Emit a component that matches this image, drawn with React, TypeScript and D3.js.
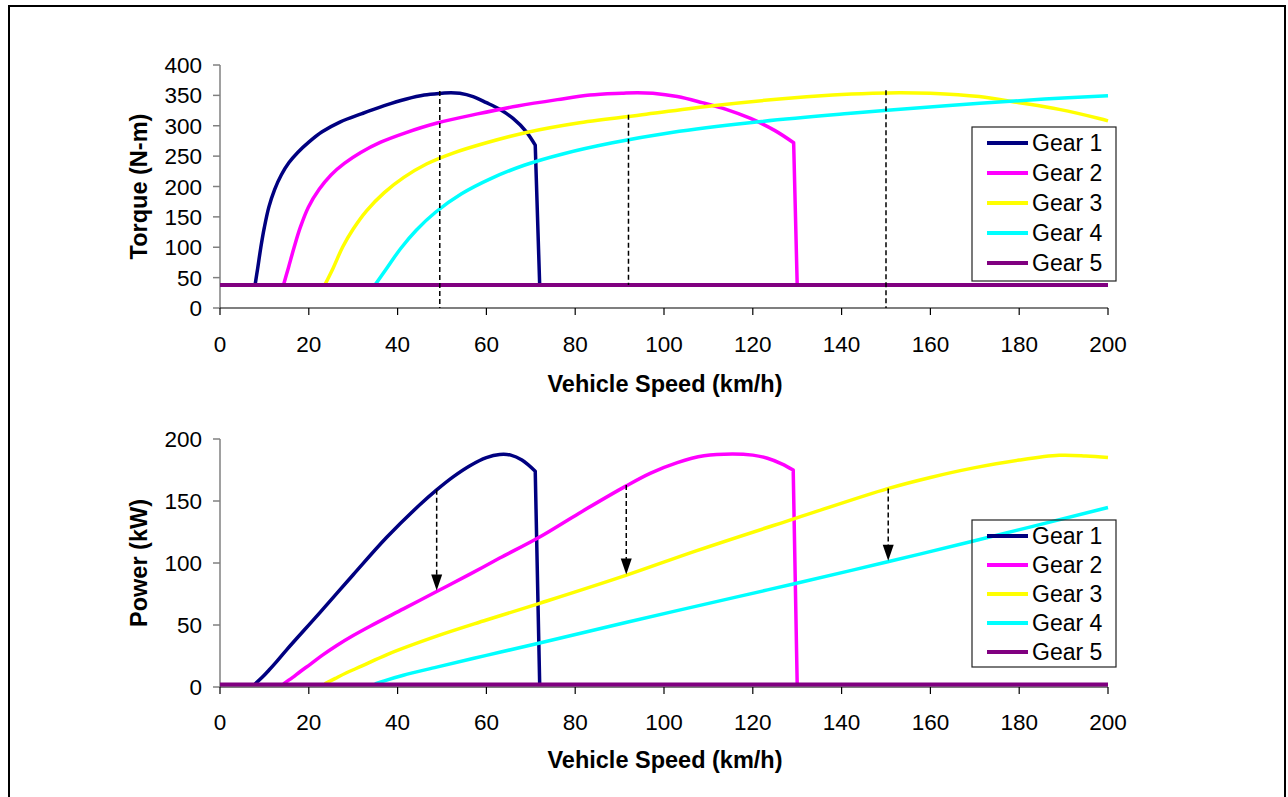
import React from "react";
import * as d3 from "d3";

type Pt = [number, number];

const gearNames = ["Gear 1", "Gear 2", "Gear 3", "Gear 4", "Gear 5"];
const gearColors = ["#000080", "#FF00FF", "#FFFF00", "#00FFFF", "#800080"];

const xTicks = [0, 20, 40, 60, 80, 100, 120, 140, 160, 180, 200];
const torqueTicks = [0, 50, 100, 150, 200, 250, 300, 350, 400];
const powerTicks = [0, 50, 100, 150, 200];

// Torque (N-m) vs speed (km/h)
const gear1Torque: Pt[] = [
  [7.9, 38], [8.5, 66], [9.2, 100], [10, 133], [11, 166], [12.3, 195], [13.8, 219],
  [15.5, 239], [17.5, 256], [20, 273], [23, 290], [27, 306], [32, 320], [37, 333],
  [42, 344], [46, 350.5], [50, 353.5], [52, 354.5], [54, 353.5], [57, 348], [60, 338],
  [63, 327], [66, 312], [69, 290], [71, 268], [72, 38],
];
const gear2Torque: Pt[] = [
  [14.3, 38], [15.4, 66], [16.7, 100], [18.1, 133], [19.9, 166], [22.3, 195], [25, 219],
  [28, 238], [31.7, 256], [36.2, 273], [41.6, 288], [48.9, 304.5], [58, 319.5], [67, 332.5],
  [76, 343], [83.3, 350.5], [90.5, 353.5], [94, 354.5], [97.5, 353.5], [103, 348],
  [108.6, 338], [114, 327], [119.5, 312], [125, 292], [129.2, 272], [130, 38],
];
const gear3Torque: Pt[] = [
  [23.6, 38], [25.5, 66], [27.6, 100], [30, 130], [33, 160], [37, 190], [41.4, 215],
  [46.5, 237], [52.5, 255], [60, 272], [69, 289], [81, 305], [96, 319], [111, 333],
  [126, 344], [138, 350.5], [147, 353.5], [153, 354.5], [160, 353.5], [171, 348],
  [180, 338], [189, 327], [198, 312], [200, 308],
];
const gear4Torque: Pt[] = [
  [34.9, 38], [37.6, 66], [40.7, 98], [44.2, 128], [48.6, 158], [54.4, 188], [61, 213],
  [68.5, 235], [77.4, 254], [88.4, 272], [101.7, 289], [119.3, 305], [141.4, 320],
  [163.5, 333], [185.7, 344], [200, 349.5],
];
const gear5Torque: Pt[] = [[0, 38], [200, 38]];

// Power (kW) vs speed (km/h)
const gear1Power: Pt[] = [
  [7.9, 2.5], [9.5, 7.8], [11, 13.5], [12.5, 19.5], [15, 30], [22.5, 60], [30, 90.5],
  [37.5, 120.5], [45, 147], [48.8, 159], [52.5, 169.5], [56.3, 178.5], [60, 185],
  [63, 187.5], [65.5, 187], [68, 183], [71, 174], [72, 2],
];
const gear2Power: Pt[] = [
  [14.3, 2.5], [16.3, 7.5], [18.1, 12.5], [20.4, 18.5], [23, 25.5], [26.3, 33.5], [30, 41.5],
  [33.8, 49], [41.3, 63], [48.8, 77], [56.3, 91], [63, 104], [72, 121], [80.8, 140],
  [91.4, 162], [97, 172.5], [103, 181], [109, 186.5], [115.4, 188], [120, 187],
  [123.3, 184.5], [126.5, 180], [129.1, 175], [130, 2],
];
const gear3Power: Pt[] = [
  [23.6, 2.5], [26, 7], [28.5, 11.5], [32, 17], [37.5, 26], [48.8, 41], [60, 54],
  [72, 67.5], [91.4, 90], [107.4, 110], [129.6, 136], [150.4, 160], [160, 169],
  [169.5, 176.5], [180, 183], [189, 186.8], [195, 186.3], [200, 185],
];
const gear4Power: Pt[] = [
  [34.9, 2.5], [37, 5], [41.3, 9.5], [48.8, 16], [60, 25.5], [72, 35.5], [91.4, 52],
  [116.2, 72.5], [129.6, 83.5], [150.4, 101], [169.5, 117.5], [200, 144.8],
];
const gear5Power: Pt[] = [[0, 2], [200, 2]];

// Shift markers
const torqueShiftSpeeds = [49.5, 92, 150];
const torqueShiftFrom = [354, 315, 355];
const torqueShiftTo = [0, 38, 0];
const powerShiftSpeeds = [48.8, 91.5, 150.5];
const powerShiftFrom = [159, 163, 160];
const powerShiftTo = [77, 90, 101];

const torqueSeries = [gear1Torque, gear2Torque, gear3Torque, gear4Torque, gear5Torque];
const powerSeries = [gear1Power, gear2Power, gear3Power, gear4Power, gear5Power];

const FONT = "'Liberation Sans', Arial, sans-serif";
const TICK_FS = 22.5;
const TITLE_FS = 23.5;
const LEGEND_FS = 23;

interface PanelProps {
  series: Pt[][];
  yDomain: [number, number];
  yRange: [number, number];
  yTicks: number[];
  yTitle: string;
  tickBaseline: number;
  xTitleBaseline: number;
  legend: { left: number; top: number; right: number; bottom: number; rows: number[] };
  children?: (x: d3.ScaleLinear<number, number>, y: d3.ScaleLinear<number, number>) => React.ReactNode;
}

function Panel(p: PanelProps) {
  const x = d3.scaleLinear().domain([0, 200]).range([220, 1108]);
  const y = d3.scaleLinear().domain(p.yDomain).range(p.yRange);
  const line = d3
    .line<Pt>()
    .x((d) => x(d[0]))
    .y((d) => y(d[1]))
    .curve(d3.curveCatmullRom.alpha(0.5));
  const pathFor = (s: Pt[]) => {
    const n = s.length;
    if (n > 2) {
      const a = s[n - 2];
      const b = s[n - 1];
      const steep = Math.abs((b[1] - a[1]) / (b[0] - a[0])) > 100;
      if (steep) {
        return (line(s.slice(0, n - 1)) || "") + `L${x(b[0])},${y(b[1])}`;
      }
    }
    return line(s) || "";
  };
  const y0 = y(p.yDomain[0]);
  const yTop = y(p.yDomain[1]);
  const yMid = (y0 + yTop) / 2;
  return (
    <g>
      <line x1={220} x2={220} y1={yTop} y2={y0} stroke="#808080" strokeWidth={1.5} />
      {p.yTicks.map((t) => (
        <g key={"yt" + t}>
          <line x1={213} x2={220} y1={y(t)} y2={y(t)} stroke="#808080" strokeWidth={1.5} />
          <text x={202} y={y(t) + 8} textAnchor="end" fontSize={TICK_FS} fontFamily={FONT} fill="#000">
            {t}
          </text>
        </g>
      ))}
      <line x1={220} x2={x(200)} y1={y0} y2={y0} stroke="#000" strokeWidth={1.2} />
      {xTicks.map((t) => (
        <g key={"xt" + t}>
          <line x1={x(t)} x2={x(t)} y1={y0} y2={y0 + 7} stroke="#000" strokeWidth={1.2} />
          <text x={x(t)} y={p.tickBaseline} textAnchor="middle" fontSize={TICK_FS} fontFamily={FONT} fill="#000">
            {t}
          </text>
        </g>
      ))}
      <text
        x={665}
        y={p.xTitleBaseline}
        textAnchor="middle"
        fontSize={TITLE_FS}
        fontWeight="bold"
        fontFamily={FONT}
        fill="#000"
      >
        Vehicle Speed (km/h)
      </text>
      <text
        transform={`translate(147,${yMid}) rotate(-90)`}
        textAnchor="middle"
        fontSize={TITLE_FS}
        fontWeight="bold"
        fontFamily={FONT}
        fill="#000"
      >
        {p.yTitle}
      </text>
      {p.series.map((s, i) => (
        <path
          key={"s" + i}
          d={pathFor(s)}
          fill="none"
          stroke={gearColors[i]}
          strokeWidth={i === 4 ? 4 : 3.5}
          strokeLinejoin="round"
        />
      ))}
      {p.children ? p.children(x, y) : null}
      <rect
        x={p.legend.left}
        y={p.legend.top}
        width={p.legend.right - p.legend.left}
        height={p.legend.bottom - p.legend.top}
        fill="none"
        stroke="#222"
        strokeWidth={1.2}
      />
      {gearNames.map((g, i) => (
        <g key={"lg" + i}>
          <line
            x1={987}
            x2={1028}
            y1={p.legend.rows[i]}
            y2={p.legend.rows[i]}
            stroke={gearColors[i]}
            strokeWidth={4}
          />
          <text x={1032} y={p.legend.rows[i] + 8} fontSize={LEGEND_FS} fontFamily={FONT} fill="#000">
            {g}
          </text>
        </g>
      ))}
    </g>
  );
}

export default function App() {
  return (
    <svg
      width={1288}
      height={797}
      style={{ position: "absolute", left: 0, top: 0, background: "#fff" }}
    >
      <rect x={0} y={0} width={1288} height={797} fill="#fff" />
      <rect x={9} y={6} width={1276} height={820} fill="none" stroke="#000" strokeWidth={2} />
      <Panel
        series={torqueSeries}
        yDomain={[0, 400]}
        yRange={[308, 65]}
        yTicks={torqueTicks}
        yTitle="Torque (N-m)"
        tickBaseline={352}
        xTitleBaseline={392}
        legend={{ left: 972, top: 127, right: 1116, bottom: 281, rows: [143, 173, 203, 233, 263] }}
      >
        {(x, y) =>
          torqueShiftSpeeds.map((s, i) => (
            <line
              key={"td" + i}
              x1={x(s)}
              x2={x(s)}
              y1={y(torqueShiftFrom[i]) - 2}
              y2={y(torqueShiftTo[i])}
              stroke="#000"
              strokeWidth={1.5}
              strokeDasharray="5,3"
            />
          ))
        }
      </Panel>
      <Panel
        series={powerSeries}
        yDomain={[0, 200]}
        yRange={[687, 439]}
        yTicks={powerTicks}
        yTitle="Power (kW)"
        tickBaseline={730}
        xTitleBaseline={768}
        legend={{ left: 972, top: 520, right: 1116, bottom: 667, rows: [536, 565, 594, 623, 652] }}
      >
        {(x, y) =>
          powerShiftSpeeds.map((s, i) => {
            const xs = x(s);
            const tip = y(powerShiftTo[i]) - 1;
            const base = tip - 16;
            return (
              <g key={"pa" + i}>
                <line
                  x1={xs}
                  x2={xs}
                  y1={y(powerShiftFrom[i])}
                  y2={base + 1}
                  stroke="#000"
                  strokeWidth={1.5}
                  strokeDasharray="5,3"
                />
                <path d={`M${xs - 5.5},${base} L${xs + 5.5},${base} L${xs},${tip} Z`} fill="#000" />
              </g>
            );
          })
        }
      </Panel>
    </svg>
  );
}
